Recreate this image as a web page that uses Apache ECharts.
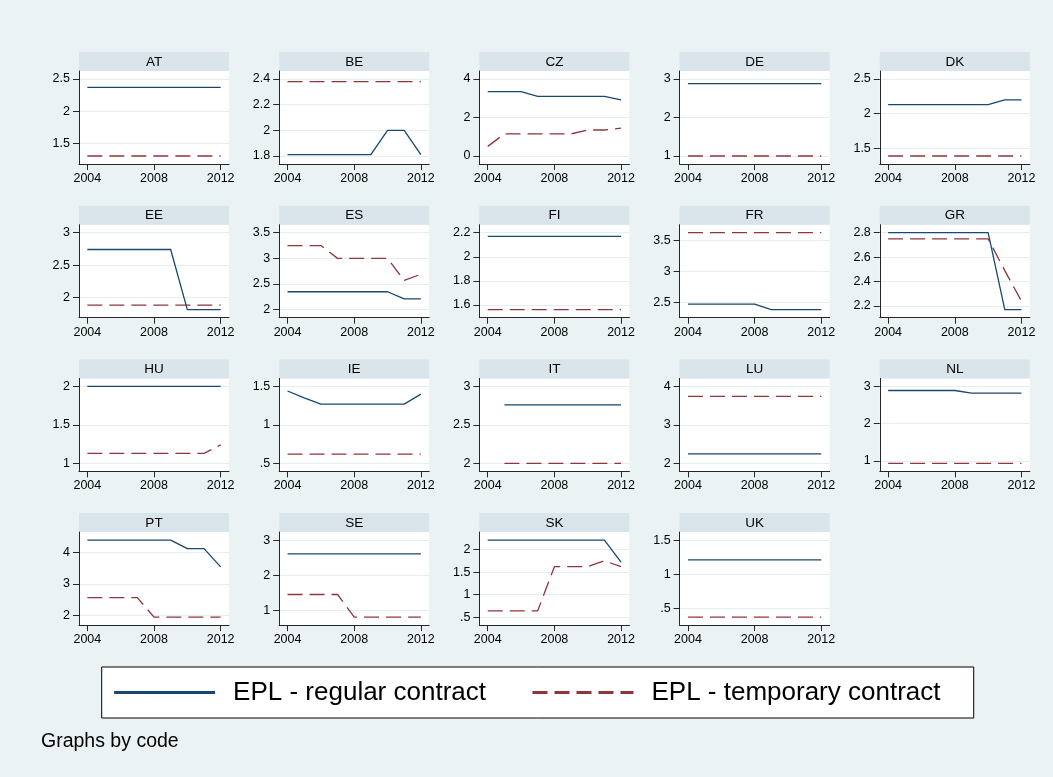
<!DOCTYPE html>
<html><head><meta charset="utf-8">
<script src="https://cdn.jsdelivr.net/npm/echarts@6/dist/echarts.min.js"></script>
<style>html,body{margin:0;padding:0;background:#EAF2F3;} #c{width:1053px;height:777px;}</style>
</head><body><div id="c"></div>
<script>
// ---------------- data ----------------
const years = [2004, 2005, 2006, 2007, 2008, 2009, 2010, 2011, 2012];
const xTicks = [2004, 2008, 2012];
const seriesNames = ['EPL - regular contract', 'EPL - temporary contract'];
const codes = ['AT','BE','CZ','DE','DK','EE','ES','FI','FR','GR','HU','IE','IT','LU','NL','PT','SE','SK','UK'];

const AT_regular   = [2.37, 2.37, 2.37, 2.37, 2.37, 2.37, 2.37, 2.37, 2.37];
const AT_temporary = [1.31, 1.31, 1.31, 1.31, 1.31, 1.31, 1.31, 1.31, 1.31];
const AT_ticks = [1.5, 2, 2.5];

const BE_regular   = [1.81, 1.81, 1.81, 1.81, 1.81, 1.81, 2.00, 2.00, 1.81];
const BE_temporary = [2.38, 2.38, 2.38, 2.38, 2.38, 2.38, 2.38, 2.38, 2.38];
const BE_ticks = [1.8, 2, 2.2, 2.4];

const CZ_regular   = [3.34, 3.34, 3.34, 3.10, 3.10, 3.10, 3.10, 3.10, 2.92];
const CZ_temporary = [0.50, 1.15, 1.15, 1.15, 1.15, 1.15, 1.35, 1.35, 1.45];
const CZ_ticks = [0, 2, 4];

const DE_regular   = [2.88, 2.88, 2.88, 2.88, 2.88, 2.88, 2.88, 2.88, 2.88];
const DE_temporary = [1.00, 1.00, 1.00, 1.00, 1.00, 1.00, 1.00, 1.00, 1.00];
const DE_ticks = [1, 2, 3];

const DK_regular   = [2.13, 2.13, 2.13, 2.13, 2.13, 2.13, 2.13, 2.20, 2.20];
const DK_temporary = [1.39, 1.39, 1.39, 1.39, 1.39, 1.39, 1.39, 1.39, 1.39];
const DK_ticks = [1.5, 2, 2.5];

const EE_regular   = [2.74, 2.74, 2.74, 2.74, 2.74, 2.74, 1.81, 1.81, 1.81];
const EE_temporary = [1.88, 1.88, 1.88, 1.88, 1.88, 1.88, 1.88, 1.88, 1.88];
const EE_ticks = [2, 2.5, 3];

const ES_regular   = [2.35, 2.35, 2.35, 2.35, 2.35, 2.35, 2.35, 2.21, 2.21];
const ES_temporary = [3.25, 3.25, 3.25, 3.00, 3.00, 3.00, 3.00, 2.57, 2.69];
const ES_ticks = [2, 2.5, 3, 3.5];

const FI_regular   = [2.17, 2.17, 2.17, 2.17, 2.17, 2.17, 2.17, 2.17, 2.17];
const FI_temporary = [1.56, 1.56, 1.56, 1.56, 1.56, 1.56, 1.56, 1.56, 1.56];
const FI_ticks = [1.6, 1.8, 2, 2.2];

const FR_regular   = [2.47, 2.47, 2.47, 2.47, 2.47, 2.38, 2.38, 2.38, 2.38];
const FR_temporary = [3.63, 3.63, 3.63, 3.63, 3.63, 3.63, 3.63, 3.63, 3.63];
const FR_ticks = [2.5, 3, 3.5];

const GR_regular   = [2.80, 2.80, 2.80, 2.80, 2.80, 2.80, 2.80, 2.17, 2.17];
const GR_temporary = [2.75, 2.75, 2.75, 2.75, 2.75, 2.75, 2.75, 2.49, 2.24];
const GR_ticks = [2.2, 2.4, 2.6, 2.8];

const HU_regular   = [2.00, 2.00, 2.00, 2.00, 2.00, 2.00, 2.00, 2.00, 2.00];
const HU_temporary = [1.13, 1.13, 1.13, 1.13, 1.13, 1.13, 1.13, 1.13, 1.24];
const HU_ticks = [1, 1.5, 2];

const IE_regular   = [1.44, 1.35, 1.27, 1.27, 1.27, 1.27, 1.27, 1.27, 1.40];
const IE_temporary = [0.62, 0.62, 0.62, 0.62, 0.62, 0.62, 0.62, 0.62, 0.62];
const IE_ticks = [0.5, 1, 1.5];

const IT_regular   = [null, 2.76, 2.76, 2.76, 2.76, 2.76, 2.76, 2.76, 2.76];
const IT_temporary = [null, 2.00, 2.00, 2.00, 2.00, 2.00, 2.00, 2.00, 2.00];
const IT_ticks = [2, 2.5, 3];

const LU_regular   = [2.25, 2.25, 2.25, 2.25, 2.25, 2.25, 2.25, 2.25, 2.25];
const LU_temporary = [3.74, 3.74, 3.74, 3.74, 3.74, 3.74, 3.74, 3.74, 3.74];
const LU_ticks = [2, 3, 4];

const NL_regular   = [2.89, 2.89, 2.89, 2.89, 2.89, 2.82, 2.82, 2.82, 2.82];
const NL_temporary = [0.93, 0.93, 0.93, 0.93, 0.93, 0.93, 0.93, 0.93, 0.93];
const NL_ticks = [1, 2, 3];

const PT_regular   = [4.39, 4.39, 4.39, 4.39, 4.39, 4.39, 4.12, 4.12, 3.54];
const PT_temporary = [2.56, 2.56, 2.56, 2.56, 1.94, 1.94, 1.94, 1.94, 1.94];
const PT_ticks = [2, 3, 4];

const SE_regular   = [2.61, 2.61, 2.61, 2.61, 2.61, 2.61, 2.61, 2.61, 2.61];
const SE_temporary = [1.46, 1.46, 1.46, 1.46, 0.82, 0.82, 0.82, 0.82, 0.82];
const SE_ticks = [1, 2, 3];

const SK_regular   = [2.21, 2.21, 2.21, 2.21, 2.21, 2.21, 2.21, 2.21, 1.72];
const SK_temporary = [0.64, 0.64, 0.64, 0.64, 1.62, 1.62, 1.62, 1.75, 1.62];
const SK_ticks = [0.5, 1, 1.5, 2];

const UK_regular   = [1.21, 1.21, 1.21, 1.21, 1.21, 1.21, 1.21, 1.21, 1.21];
const UK_temporary = [0.37, 0.37, 0.37, 0.37, 0.37, 0.37, 0.37, 0.37, 0.37];
const UK_ticks = [0.5, 1, 1.5];

const panelData = {
  AT:[AT_regular,AT_temporary,AT_ticks], BE:[BE_regular,BE_temporary,BE_ticks],
  CZ:[CZ_regular,CZ_temporary,CZ_ticks], DE:[DE_regular,DE_temporary,DE_ticks],
  DK:[DK_regular,DK_temporary,DK_ticks], EE:[EE_regular,EE_temporary,EE_ticks],
  ES:[ES_regular,ES_temporary,ES_ticks], FI:[FI_regular,FI_temporary,FI_ticks],
  FR:[FR_regular,FR_temporary,FR_ticks], GR:[GR_regular,GR_temporary,GR_ticks],
  HU:[HU_regular,HU_temporary,HU_ticks], IE:[IE_regular,IE_temporary,IE_ticks],
  IT:[IT_regular,IT_temporary,IT_ticks], LU:[LU_regular,LU_temporary,LU_ticks],
  NL:[NL_regular,NL_temporary,NL_ticks], PT:[PT_regular,PT_temporary,PT_ticks],
  SE:[SE_regular,SE_temporary,SE_ticks], SK:[SK_regular,SK_temporary,SK_ticks],
  UK:[UK_regular,UK_temporary,UK_ticks]
};

// ---------------- layout / style ----------------
const FONT = '"Liberation Sans", Arial, Helvetica, sans-serif';
const BG = '#EAF2F3', STRIP = '#D9E5EB', GRIDC = '#E6EEF0';
const REG_C = '#1A476F', TMP_C = '#90353B';
const COL_LEFT = 79, COL_STEP = 200.2, ROW_TOP = 71, ROW_STEP = 153.7;
const PW = 150, PH = 93, HEAD = 19, PADPX = 8;
const AXC = '#262626';

function fmt(v) {
  const s = String(+(+v).toFixed(2));
  return s.replace(/^0\./, '.').replace(/^-0\./, '-.');
}

const grids = [], xAxes = [], yAxes = [], series = [], graphics = [];

codes.forEach((code, i) => {
  const [reg, tmp, ticks] = panelData[code];
  const c = i % 5, r = Math.floor(i / 5);
  const left = COL_LEFT + c * COL_STEP, top = ROW_TOP + r * ROW_STEP;
  const vals = reg.concat(tmp).filter(v => v != null);
  const lo = Math.min(ticks[0], ...vals), hi = Math.max(ticks[ticks.length - 1], ...vals);
  const pad = (hi - lo) * PADPX / (PH - 2 * PADPX);

  grids.push({ left, top, width: PW, height: PH, show: true, backgroundColor: '#fff', borderWidth: 0, containLabel: false });
  xAxes.push({
    gridIndex: i, type: 'value', min: 2003.5, max: 2012.5,
    axisLine: { show: true, onZero: false, lineStyle: { color: AXC, width: 1 } },
    axisTick: { show: true, length: 6, customValues: xTicks, lineStyle: { color: AXC, width: 1 } },
    axisLabel: { customValues: xTicks, margin: 8, fontSize: 12.5, color: '#000', fontFamily: FONT, formatter: v => String(v) },
    splitLine: { show: false }
  });
  yAxes.push({
    gridIndex: i, type: 'value', min: lo - pad, max: hi + pad,
    axisLine: { show: true, onZero: false, lineStyle: { color: AXC, width: 1 } },
    axisTick: { show: true, length: 6, customValues: ticks, lineStyle: { color: AXC, width: 1 } },
    axisLabel: { customValues: ticks, margin: 9, fontSize: 12.5, color: '#000', fontFamily: FONT, formatter: fmt },
    splitLine: { show: true, lineStyle: { color: GRIDC, width: 1 } }
  });
  series.push({
    type: 'line', name: seriesNames[0], xAxisIndex: i, yAxisIndex: i,
    data: years.map((y, k) => [y, reg[k]]), symbol: 'none', connectNulls: false,
    lineStyle: { color: REG_C, width: 1.3 }, itemStyle: { color: REG_C }, z: 3
  });
  series.push({
    type: 'line', name: seriesNames[1], xAxisIndex: i, yAxisIndex: i,
    data: years.map((y, k) => [y, tmp[k]]), symbol: 'none', connectNulls: false,
    lineStyle: { color: TMP_C, width: 1.3, type: [15, 7] }, itemStyle: { color: TMP_C }, z: 2
  });
  graphics.push({ type: 'rect', x: left, y: top - HEAD, shape: { x: 0, y: 0, width: PW, height: HEAD }, style: { fill: STRIP }, silent: true });
  graphics.push({ type: 'text', x: left + PW / 2, y: top - HEAD / 2 + 0.5, style: { text: code, fill: '#000', font: '13.5px ' + FONT, textAlign: 'center', textVerticalAlign: 'middle' }, silent: true });
});

// legend box & note
graphics.push({ type: 'rect', x: 101.7, y: 667, shape: { x: 0, y: 0, width: 872, height: 51 }, style: { fill: '#fff', stroke: '#000', lineWidth: 1 }, z: -1, silent: true });
graphics.push({ type: 'text', x: 41, y: 742, style: { text: 'Graphs by code', fill: '#000', font: '19.5px ' + FONT, textAlign: 'left', textVerticalAlign: 'middle' }, silent: true });

const chart = echarts.init(document.getElementById('c'), null, { renderer: 'canvas' });
chart.setOption({
  animation: false,
  backgroundColor: BG,
  textStyle: { fontFamily: FONT },
  grid: grids, xAxis: xAxes, yAxis: yAxes, series,
  legend: {
    data: seriesNames, left: 112.6, top: 667, padding: [12, 0, 12, 0],
    itemWidth: 101, itemHeight: 14, itemGap: 45, selectedMode: false,
    textStyle: { fontSize: 26, lineHeight: 27, color: '#000', fontFamily: FONT, padding: [0, 0, 0, 13] },
    lineStyle: { width: 3 },
    itemStyle: { opacity: 0, borderWidth: 0 },
    z: 10
  },
  graphic: { elements: graphics }
});
</script></body></html>
